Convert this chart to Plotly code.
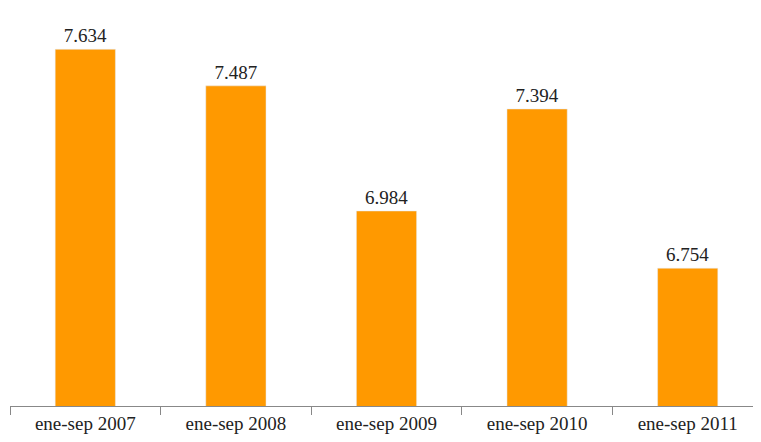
import plotly.graph_objects as go

periodos = ["ene-sep 2007", "ene-sep 2008", "ene-sep 2009", "ene-sep 2010", "ene-sep 2011"]
valores = [7634, 7487, 6984, 7394, 6754]
etiquetas = ["7.634", "7.487", "6.984", "7.394", "6.754"]

fig = go.Figure(go.Bar(
    x=periodos, y=valores, text=etiquetas, textposition="outside",
    marker_color="#FF9900", width=0.4, cliponaxis=False,
    textfont=dict(size=19, color="#222"),
))

fig.update_layout(
    width=761, height=442,
    margin=dict(l=2, r=6, t=0, b=44, autoexpand=False),
    plot_bgcolor="white", paper_bgcolor="white",
    font=dict(family="Liberation Serif", size=19, color="#222"),
    showlegend=False,
)
fig.update_xaxes(showline=True, linecolor="#888", ticks="outside", tickson="boundaries",
                 ticklen=8, tickcolor="#888")
fig.update_yaxes(range=[6200, 7800], visible=False)

fig.write_html("out.html")
